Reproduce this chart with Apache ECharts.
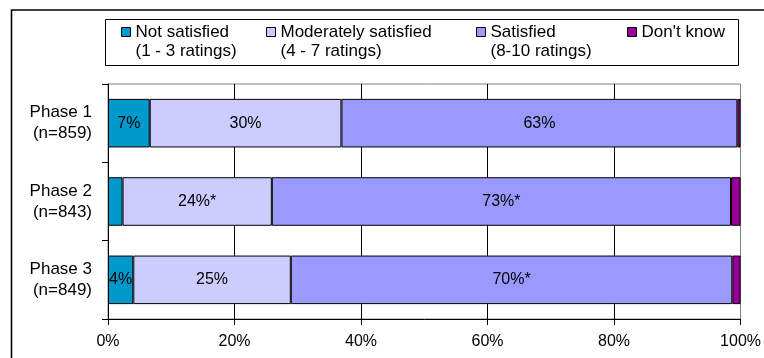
<!DOCTYPE html>
<html>
<head>
<meta charset="utf-8">
<script src="https://cdn.jsdelivr.net/npm/echarts@6/dist/echarts.min.js"></script>
<style>
  html, body { margin: 0; padding: 0; background: #fff; }
  #chart { width: 764px; height: 358px; }
</style>
</head>
<body>
<div id="chart"></div>
<script>
// Survey phases and their sample sizes
const phases = ['Phase 1', 'Phase 2', 'Phase 3'];
const sampleSizes = [859, 843, 849];

// Response categories and the rating range each one covers
const responseNames = ['Not satisfied', 'Moderately satisfied', 'Satisfied', "Don't know"];
const ratingRanges = ['(1 - 3 ratings)', '(4 - 7 ratings)', '(8-10 ratings)', ''];

// Share of respondents (%) per phase
const notSatisfied = [6.6, 2.3, 4.0];
const moderatelySatisfied = [30.3, 23.6, 24.9];
const satisfied = [62.6, 72.6, 69.8];
const dontKnow = [0.5, 1.5, 1.3];

// Significance markers appended to the value labels
const notSatisfiedMarks = ['', '', ''];
const moderatelyMarks = ['', '*', ''];
const satisfiedMarks = ['', '*', '*'];
const dontKnowMarks = ['', '', ''];

// Axis ticks
const xTicks = [0, 20, 40, 60, 80, 100];

const seriesValues = [notSatisfied, moderatelySatisfied, satisfied, dontKnow];
const seriesMarks = [notSatisfiedMarks, moderatelyMarks, satisfiedMarks, dontKnowMarks];
const seriesColors = ['#0099CC', '#CCCCFF', '#9999FF', '#990099'];
const showLabels = [true, true, true, false];
const legendLefts = [121, 266, 476, 627];

const FONT = 'Liberation Sans, Arial, sans-serif';

const chart = echarts.init(document.getElementById('chart'), null, { renderer: 'canvas' });

const series = responseNames.map((name, i) => ({
  name: name,
  type: 'bar',
  stack: 'total',
  barWidth: '62%',
  data: seriesValues[i],
  itemStyle: { color: seriesColors[i], borderColor: '#000', borderWidth: 1 },
  label: {
    show: showLabels[i],
    position: 'inside',
    color: '#000',
    fontFamily: FONT,
    fontSize: 16,
    formatter: p => (p.value < 3 ? '' : Math.round(p.value) + '%' + seriesMarks[i][p.dataIndex])
  },
  emphasis: { disabled: true }
}));

// Each legend entry is a three-line block (blank, name, range) so the
// swatch lines up with the name on the middle line.
const legends = responseNames.map((name, i) => ({
  data: [name],
  left: legendLefts[i],
  top: 3.5,
  padding: 0,
  icon: 'rect',
  itemWidth: 9,
  itemHeight: 9,
  itemGap: 0,
  selectedMode: false,
  itemStyle: { borderColor: '#000', borderWidth: 1 },
  formatter: n => '\n' + n + '\n' + ratingRanges[i],
  textStyle: {
    color: '#000',
    fontFamily: FONT,
    fontSize: 17,
    lineHeight: 19
  }
}));

chart.setOption({
  animation: false,
  backgroundColor: '#fff',
  grid: {
    left: 108,
    right: 23,
    top: 84,
    bottom: 39,
    show: true,
    borderColor: '#808080',
    borderWidth: 1,
    backgroundColor: 'transparent'
  },
  legend: legends,
  xAxis: {
    type: 'value',
    min: xTicks[0],
    max: xTicks[xTicks.length - 1],
    interval: xTicks[1] - xTicks[0],
    axisLine: { show: true, lineStyle: { color: '#000', width: 1 } },
    axisTick: { show: true, length: 6, lineStyle: { color: '#000' } },
    axisLabel: {
      color: '#000',
      fontFamily: FONT,
      fontSize: 16,
      margin: 15,
      formatter: '{value}%'
    },
    splitLine: {
      show: true,
      lineStyle: { color: ['#000', '#000', '#000', '#000', '#000', '#808080'], width: 1 }
    }
  },
  yAxis: {
    type: 'category',
    inverse: true,
    data: phases.map((p, i) => p + '\n(n=' + sampleSizes[i] + ')'),
    axisLine: { show: true, lineStyle: { color: '#000', width: 1 } },
    axisTick: { show: true, length: 6, alignWithLabel: false, lineStyle: { color: '#000' } },
    axisLabel: {
      color: '#000',
      fontFamily: FONT,
      fontSize: 17,
      lineHeight: 21,
      margin: 16
    },
    splitLine: { show: false }
  },
  series: series,
  graphic: [
    {
      type: 'rect',
      silent: true,
      shape: { x: 11.5, y: 10, width: 800, height: 400 },
      style: { fill: 'none', stroke: '#000', lineWidth: 1.6 }
    },
    {
      type: 'rect',
      silent: true,
      shape: { x: 105.5, y: 19.5, width: 633, height: 46 },
      style: { fill: 'none', stroke: '#000', lineWidth: 1 }
    }
  ]
});
</script>
</body>
</html>
